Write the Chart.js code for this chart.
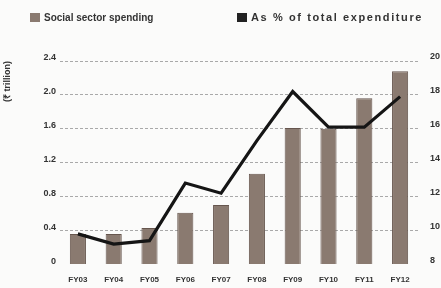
<!DOCTYPE html>
<html lang="en">
<head>
    <meta charset="UTF-8">
    <title>Social sector spending</title>
    <style>
        html, body {
            margin: 0;
            padding: 0;
            background: #fbfbfa;
        }
        .wrap {
            width: 441px;
            height: 288px;
        }
    </style>
</head>
<body>
    <div class="wrap">
        <canvas id="chart1"></canvas>
    </div>

    <script src="https://cdn.jsdelivr.net/npm/chart.js@4.4.1/dist/chart.umd.min.js"></script>
    <script>
        const years = ["FY03", "FY04", "FY05", "FY06", "FY07", "FY08", "FY09", "FY10", "FY11", "FY12"];
        // ₹ trillion (bars, left axis)
        const spending = [0.36, 0.36, 0.43, 0.61, 0.70, 1.07, 1.61, 1.60, 1.96, 2.28];
        // % of total expenditure (line, right axis)
        const sharePct = [9.8, 9.2, 9.4, 12.8, 12.2, 15.3, 18.2, 16.1, 16.1, 17.9];
        const leftTicks = [0, 0.4, 0.8, 1.2, 1.6, 2.0, 2.4];
        const leftTickLabels = ["0", "0.4", "0.8", "1.2", "1.6", "2.0", "2.4"];
        const rightTicks = [8, 10, 12, 14, 16, 18, 20];

        const barColor = "#8a7a70";
        const font = "Liberation Sans";

        // legend drawn by hand so the two items sit where they are in the print
        const legendPlugin = {
            id: "printLegend",
            afterDraw(chart) {
                const ctx = chart.ctx;
                ctx.save();
                ctx.font = "bold 10px " + font;
                ctx.textBaseline = "middle";
                ctx.fillStyle = barColor;
                ctx.fillRect(30, 13, 10, 9);
                ctx.fillStyle = "#333";
                ctx.fillText(chart.data.datasets[1].label, 44, 18);
                ctx.fillStyle = "#222";
                ctx.fillRect(237, 13, 10, 9);
                ctx.fillStyle = "#333";
                ctx.font = "bold 11px " + font;
                ctx.letterSpacing = "1.6px";
                ctx.fillText(chart.data.datasets[0].label, 251, 18);
                ctx.restore();
            }
        };

        new Chart(document.getElementById("chart1"), {
            type: "bar",
            data: {
                labels: years,
                datasets: [
                    {
                        type: "line",
                        label: "As % of total expenditure",
                        data: sharePct,
                        yAxisID: "y2",
                        borderColor: "#151515",
                        borderWidth: 3.2,
                        pointRadius: 0,
                        tension: 0,
                        order: 0,
                    },
                    {
                        type: "bar",
                        label: "Social sector spending",
                        data: spending,
                        yAxisID: "y",
                        backgroundColor: barColor,
                        borderColor: "#66564e",
                        borderWidth: 1,
                        categoryPercentage: 0.9,
                        barPercentage: 0.5,
                        order: 1,
                    },
                ],
            },
            options: {
                responsive: true,
                maintainAspectRatio: false,
                animation: false,
                layout: {
                    padding: { top: 61, bottom: 0, left: 0, right: 0 },
                },
                plugins: {
                    legend: { display: false },
                    tooltip: { enabled: false },
                },
                scales: {
                    x: {
                        grid: { display: false },
                        border: { display: false },
                        ticks: {
                            color: "#333",
                            font: { family: font, size: 8, weight: "bold" },
                            maxRotation: 0,
                            padding: 3,
                        },
                    },
                    y: {
                        position: "left",
                        min: 0,
                        max: 2.4,
                        afterBuildTicks(scale) {
                            scale.ticks = leftTicks.map(v => ({ value: v }));
                        },
                        afterFit(scale) {
                            scale.width = 60;
                        },
                        grid: {
                            color: ctx => ctx.tick && ctx.tick.value === 0 ? "rgba(0,0,0,0)" : "#a9a9a9",
                            lineWidth: 1,
                            drawTicks: false,
                        },
                        border: { display: false, dash: [3, 2] },
                        ticks: {
                            color: "#333",
                            font: { family: font, size: 9, weight: "bold" },
                            padding: 4,
                            labelOffset: -3,
                            callback: (v, i) => leftTickLabels[i],
                        },
                        title: {
                            display: true,
                            text: "(₹ trillion)",
                            align: "end",
                            color: "#333",
                            font: { family: font, size: 9, weight: "bold" },
                            padding: { top: 2, bottom: 0 },
                        },
                    },
                    y2: {
                        position: "right",
                        min: 8,
                        max: 20,
                        afterBuildTicks(scale) {
                            scale.ticks = rightTicks.map(v => ({ value: v }));
                        },
                        afterFit(scale) {
                            scale.width = 23;
                        },
                        grid: { display: false },
                        border: { display: false },
                        ticks: {
                            color: "#333",
                            font: { family: font, size: 9, weight: "bold" },
                            padding: 4,
                            labelOffset: -4,
                        },
                    },
                },
            },
            plugins: [legendPlugin],
        });
    </script>
</body>
</html>
